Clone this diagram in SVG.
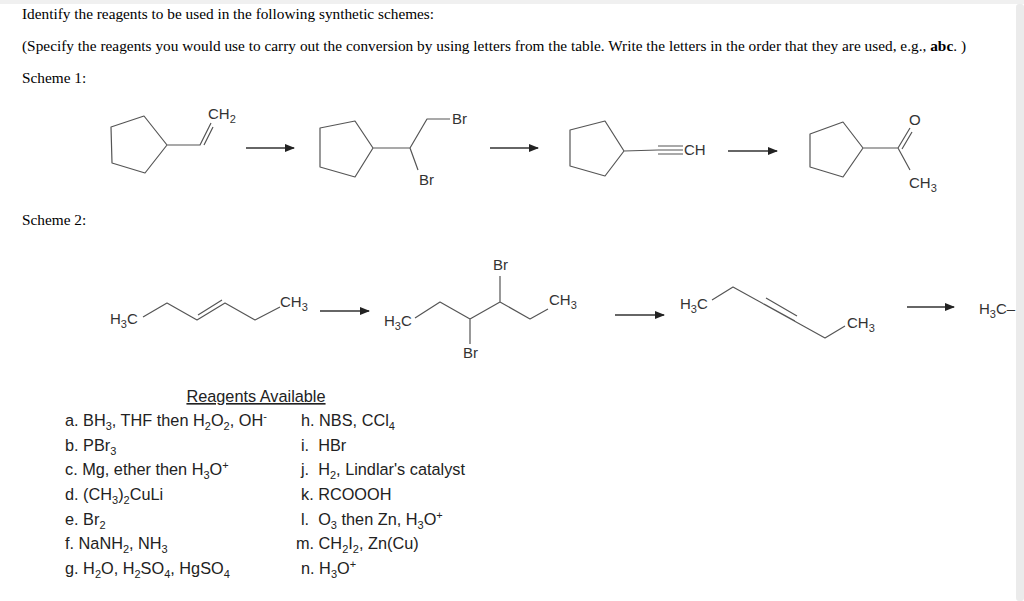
<svg xmlns="http://www.w3.org/2000/svg" width="1024" height="601" viewBox="0 0 1024 601">
<style>
.b{fill:none;stroke:#555;stroke-width:1.2;stroke-linejoin:round}
.a{stroke:#333;stroke-width:1.3}
.t{font-family:"Liberation Serif",serif;font-size:15.3px;fill:#000}
.c{font-family:"Liberation Sans",Arial,sans-serif;font-size:15px;fill:#333}
.r{font-family:"Liberation Sans",Arial,sans-serif;font-size:16.3px;fill:#222}
.s{font-size:11px}
</style>
<defs><marker id="ah" markerWidth="10" markerHeight="8" refX="9" refY="4" orient="auto" markerUnits="userSpaceOnUse"><path d="M0,0 L10,4 L0,8 z" fill="#222"/></marker></defs>
<rect width="1024" height="601" fill="#fff"/>
<rect width="1024" height="4" fill="#f0f0f0"/>
<rect x="1016" y="4" width="8" height="597" rx="3" fill="#ebebeb"/>
<text class="t" x="22" y="19">Identify the reagents to be used in the following synthetic schemes:</text>
<text class="t" x="22" y="51" textLength="944" lengthAdjust="spacing">(Specify the reagents you would use to carry out the conversion by using letters from the table. Write the letters in the order that they are used, e.g., <tspan font-weight="bold">abc</tspan>. )</text>
<text class="t" x="22" y="83">Scheme 1:</text>
<text class="t" x="22" y="225">Scheme 2:</text>

<g id="m1"><path class="b" d="M111,127 L144,116 L167,145 L145,173 L112,163 Z M167,145 L200,145 L211,123 M204,145 L213,127"/><text class="c" x="208" y="119">CH<tspan class="s" dy="4">2</tspan></text></g>
<g id="m2"><path class="b" d="M320,128 L355,121 L373,148 L355,177 L320,167 Z M373,148 L410,148 L427,119 L450,119 M410,148 L418,170"/><text class="c" x="452" y="124">Br</text><text class="c" x="419" y="185">Br</text></g>
<g id="m3"><path class="b" d="M570,130 L605,121 L624,151 L605,176 L570,166 Z M624,151 L658,150 M658,146 L683,146 M658,150 L683,150 M658,154 L683,154"/><text class="c" x="684" y="155">CH</text></g>
<g id="m4"><path class="b" d="M810,134 L843,122 L863,148 L843,177 L810,167 Z M863,148 L898,148 L910,128 M902,149 L912,132 M898,148 L910,170"/><text class="c" x="909" y="125">O</text><text class="c" x="909" y="188">CH<tspan class="s" dy="4">3</tspan></text></g>

<g id="m5"><text class="c" x="110" y="324">H<tspan class="s" dy="4">3</tspan><tspan dy="-4">C</tspan></text><path class="b" d="M143,317 L167,303 L197,320 L225,303 L255,320 L280,307 M198,315 L222,300"/><text class="c" x="280" y="307">CH<tspan class="s" dy="4">3</tspan></text></g>
<g id="m6"><text class="c" x="384" y="326">H<tspan class="s" dy="4">3</tspan><tspan dy="-4">C</tspan></text><path class="b" d="M415,318 L440,302 L470,319 L500,302 L530,319 L548,309 M500,302 L500,276 M470,319 L470,344"/><text class="c" x="493" y="270">Br</text><text class="c" x="463" y="358">Br</text><text class="c" x="549" y="305">CH<tspan class="s" dy="4">3</tspan></text></g>
<g id="m7"><text class="c" x="680" y="309">H<tspan class="s" dy="4">3</tspan><tspan dy="-4">C</tspan></text><path class="b" d="M712,300 L733,287 L825,338 L845,326 M766,298 L797,316 M764,304 L795,321"/><text class="c" x="847" y="328">CH<tspan class="s" dy="4">3</tspan></text></g>
<g id="m8"><text class="c" x="979" y="314">H<tspan class="s" dy="4">3</tspan><tspan dy="-4">C–</tspan></text></g>

<g id="connectors">
<line class="a" x1="246" y1="148" x2="294" y2="148" marker-end="url(#ah)"/>
<line class="a" x1="490" y1="148" x2="538" y2="148" marker-end="url(#ah)"/>
<line class="a" x1="728" y1="151" x2="777" y2="151" marker-end="url(#ah)"/>
<line class="a" x1="320" y1="311" x2="369" y2="311" marker-end="url(#ah)"/>
<line class="a" x1="615" y1="315" x2="664" y2="315" marker-end="url(#ah)"/>
<line class="a" x1="907" y1="307" x2="954" y2="307" marker-end="url(#ah)"/>
</g>

<g id="reagents">
<text class="r" x="256" y="402" text-anchor="middle" text-decoration="underline">Reagents Available</text>
<text class="r" x="65" y="426">a. BH<tspan class="s" dy="4">3</tspan><tspan dy="-4">, THF then H</tspan><tspan class="s" dy="4">2</tspan><tspan dy="-4">O</tspan><tspan class="s" dy="4">2</tspan><tspan dy="-4">, OH</tspan><tspan class="s" dy="-6">-</tspan></text>
<text class="r" x="65" y="451">b. PBr<tspan class="s" dy="4">3</tspan></text>
<text class="r" x="65" y="475">c. Mg, ether then H<tspan class="s" dy="4">3</tspan><tspan dy="-4">O</tspan><tspan class="s" dy="-6">+</tspan></text>
<text class="r" x="65" y="500">d. (CH<tspan class="s" dy="4">3</tspan><tspan dy="-4">)</tspan><tspan class="s" dy="4">2</tspan><tspan dy="-4">CuLi</tspan></text>
<text class="r" x="65" y="525">e. Br<tspan class="s" dy="4">2</tspan></text>
<text class="r" x="65" y="549">f. NaNH<tspan class="s" dy="4">2</tspan><tspan dy="-4">, NH</tspan><tspan class="s" dy="4">3</tspan></text>
<text class="r" x="65" y="574">g. H<tspan class="s" dy="4">2</tspan><tspan dy="-4">O, H</tspan><tspan class="s" dy="4">2</tspan><tspan dy="-4">SO</tspan><tspan class="s" dy="4">4</tspan><tspan dy="-4">, HgSO</tspan><tspan class="s" dy="4">4</tspan></text>
<text class="r" x="301" y="426">h. NBS, CCl<tspan class="s" dy="4">4</tspan></text>
<text class="r" x="301" y="451">i.&#160; HBr</text>
<text class="r" x="301" y="475">j.&#160; H<tspan class="s" dy="4">2</tspan><tspan dy="-4">, Lindlar's catalyst</tspan></text>
<text class="r" x="301" y="500">k. RCOOOH</text>
<text class="r" x="301" y="525">l.&#160; O<tspan class="s" dy="4">3</tspan><tspan dy="-4"> then Zn, H</tspan><tspan class="s" dy="4">3</tspan><tspan dy="-4">O</tspan><tspan class="s" dy="-6">+</tspan></text>
<text class="r" x="296" y="549">m. CH<tspan class="s" dy="4">2</tspan><tspan dy="-4">I</tspan><tspan class="s" dy="4">2</tspan><tspan dy="-4">, Zn(Cu)</tspan></text>
<text class="r" x="301" y="574">n. H<tspan class="s" dy="4">3</tspan><tspan dy="-4">O</tspan><tspan class="s" dy="-6">+</tspan></text>
</g>
</svg>
